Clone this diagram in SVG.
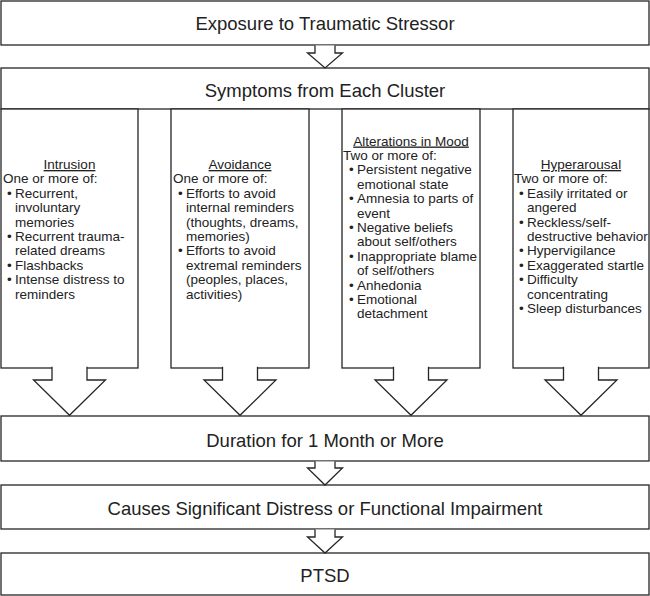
<svg xmlns="http://www.w3.org/2000/svg" width="650" height="596" viewBox="0 0 650 596">
<style>
.box{fill:#fff;stroke:#262626;stroke-width:1.3}
.arr{fill:#fff;stroke:#262626;stroke-width:1.3;stroke-linejoin:miter}
.cover{fill:#fff;stroke:none}
.big{font-family:"Liberation Sans",Arial,sans-serif;font-size:18.5px;fill:#222;text-anchor:middle}
.t{font-family:"Liberation Sans",Arial,sans-serif;font-size:13.5px;fill:#222}
.h{text-anchor:middle;text-decoration:underline}
</style>
<rect width="650" height="596" fill="#fff"/>
<g id="exposure">
<rect class="box" x="1" y="1" width="648" height="44"/>
<text class="big" x="325" y="29.5">Exposure to Traumatic Stressor</text>
</g>
<g id="symptoms">
<rect class="box" x="1" y="68" width="648" height="41"/>
<text class="big" x="325" y="96.5">Symptoms from Each Cluster</text>
</g>
<g id="intrusion">
<rect class="box" x="1" y="109" width="137" height="259"/>
<text class="t h" x="69.5" y="169">Intrusion</text>
<text class="t" x="3" y="183.4">One or more of:</text>
<text class="t" x="7" y="197.8">•</text><text class="t" x="15" y="197.8">Recurrent,</text>
<text class="t" x="15" y="212.2">involuntary</text>
<text class="t" x="15" y="226.6">memories</text>
<text class="t" x="7" y="241">•</text><text class="t" x="15" y="241">Recurrent trauma-</text>
<text class="t" x="15" y="255.4">related dreams</text>
<text class="t" x="7" y="269.8">•</text><text class="t" x="15" y="269.8">Flashbacks</text>
<text class="t" x="7" y="284.2">•</text><text class="t" x="15" y="284.2">Intense distress to</text>
<text class="t" x="15" y="298.6">reminders</text>
</g>
<g id="avoidance">
<rect class="box" x="171" y="109" width="138" height="259"/>
<text class="t h" x="240" y="169">Avoidance</text>
<text class="t" x="173" y="183.4">One or more of:</text>
<text class="t" x="178" y="197.8">•</text><text class="t" x="186" y="197.8">Efforts to avoid</text>
<text class="t" x="186" y="212.2">internal reminders</text>
<text class="t" x="186" y="226.6">(thoughts, dreams,</text>
<text class="t" x="186" y="241">memories)</text>
<text class="t" x="178" y="255.4">•</text><text class="t" x="186" y="255.4">Efforts to avoid</text>
<text class="t" x="186" y="269.8">extremal reminders</text>
<text class="t" x="186" y="284.2">(peoples, places,</text>
<text class="t" x="186" y="298.6">activities)</text>
</g>
<g id="mood">
<rect class="box" x="342" y="109" width="138" height="259"/>
<text class="t h" x="411" y="145.5">Alterations in Mood</text>
<text class="t" x="343" y="159.9">Two or more of:</text>
<text class="t" x="349" y="174.3">•</text><text class="t" x="357" y="174.3">Persistent negative</text>
<text class="t" x="357" y="188.7">emotional state</text>
<text class="t" x="349" y="203.1">•</text><text class="t" x="357" y="203.1">Amnesia to parts of</text>
<text class="t" x="357" y="217.5">event</text>
<text class="t" x="349" y="231.9">•</text><text class="t" x="357" y="231.9">Negative beliefs</text>
<text class="t" x="357" y="246.3">about self/others</text>
<text class="t" x="349" y="260.7">•</text><text class="t" x="357" y="260.7">Inappropriate blame</text>
<text class="t" x="357" y="275.1">of self/others</text>
<text class="t" x="349" y="289.5">•</text><text class="t" x="357" y="289.5">Anhedonia</text>
<text class="t" x="349" y="303.9">•</text><text class="t" x="357" y="303.9">Emotional</text>
<text class="t" x="357" y="318.3">detachment</text>
</g>
<g id="hyperarousal">
<rect class="box" x="513" y="109" width="136" height="259"/>
<text class="t h" x="581" y="169">Hyperarousal</text>
<text class="t" x="514" y="183.4">Two or more of:</text>
<text class="t" x="519" y="197.8">•</text><text class="t" x="527" y="197.8">Easily irritated or</text>
<text class="t" x="527" y="212.2">angered</text>
<text class="t" x="519" y="226.6">•</text><text class="t" x="527" y="226.6">Reckless/self-</text>
<text class="t" x="527" y="241">destructive behavior</text>
<text class="t" x="519" y="255.4">•</text><text class="t" x="527" y="255.4">Hypervigilance</text>
<text class="t" x="519" y="269.8">•</text><text class="t" x="527" y="269.8">Exaggerated startle</text>
<text class="t" x="519" y="284.2">•</text><text class="t" x="527" y="284.2">Difficulty</text>
<text class="t" x="527" y="298.6">concentrating</text>
<text class="t" x="519" y="313">•</text><text class="t" x="527" y="313">Sleep disturbances</text>
</g>
<g id="duration">
<rect class="box" x="1" y="416" width="648" height="45"/>
<text class="big" x="325" y="446.5">Duration for 1 Month or More</text>
</g>
<g id="distress">
<rect class="box" x="1" y="485" width="648" height="44"/>
<text class="big" x="325" y="514.5">Causes Significant Distress or Functional Impairment</text>
</g>
<g id="ptsd">
<rect class="box" x="1" y="553" width="648" height="42"/>
<text class="big" x="325" y="582">PTSD</text>
</g>
<g id="connectors">
<path class="arr" d="M315,45.6 V53 H307.5 L325,68 L342.5,53 H335 V45.6"/>
<rect class="cover" x="52.3" y="366.5" width="34.4" height="3"/>
<path class="arr" d="M52,366.8 V380 H33.5 L69.5,415.3 L105.5,380 H87 V366.8"/>
<rect class="cover" x="222.8" y="366.5" width="34.4" height="3"/>
<path class="arr" d="M222.5,366.8 V380 H204 L240,415.3 L276,380 H257.5 V366.8"/>
<rect class="cover" x="393.8" y="366.5" width="34.4" height="3"/>
<path class="arr" d="M393.5,366.8 V380 H375 L411,415.3 L447,380 H428.5 V366.8"/>
<rect class="cover" x="563.8" y="366.5" width="34.4" height="3"/>
<path class="arr" d="M563.5,366.8 V380 H545 L581,415.3 L617,380 H598.5 V366.8"/>
<path class="arr" d="M315,461.6 V468 H307.5 L325,485 L342.5,468 H335 V461.6"/>
<path class="arr" d="M315,529.6 V537 H307.5 L325,553 L342.5,537 H335 V529.6"/>
</g>
</svg>
